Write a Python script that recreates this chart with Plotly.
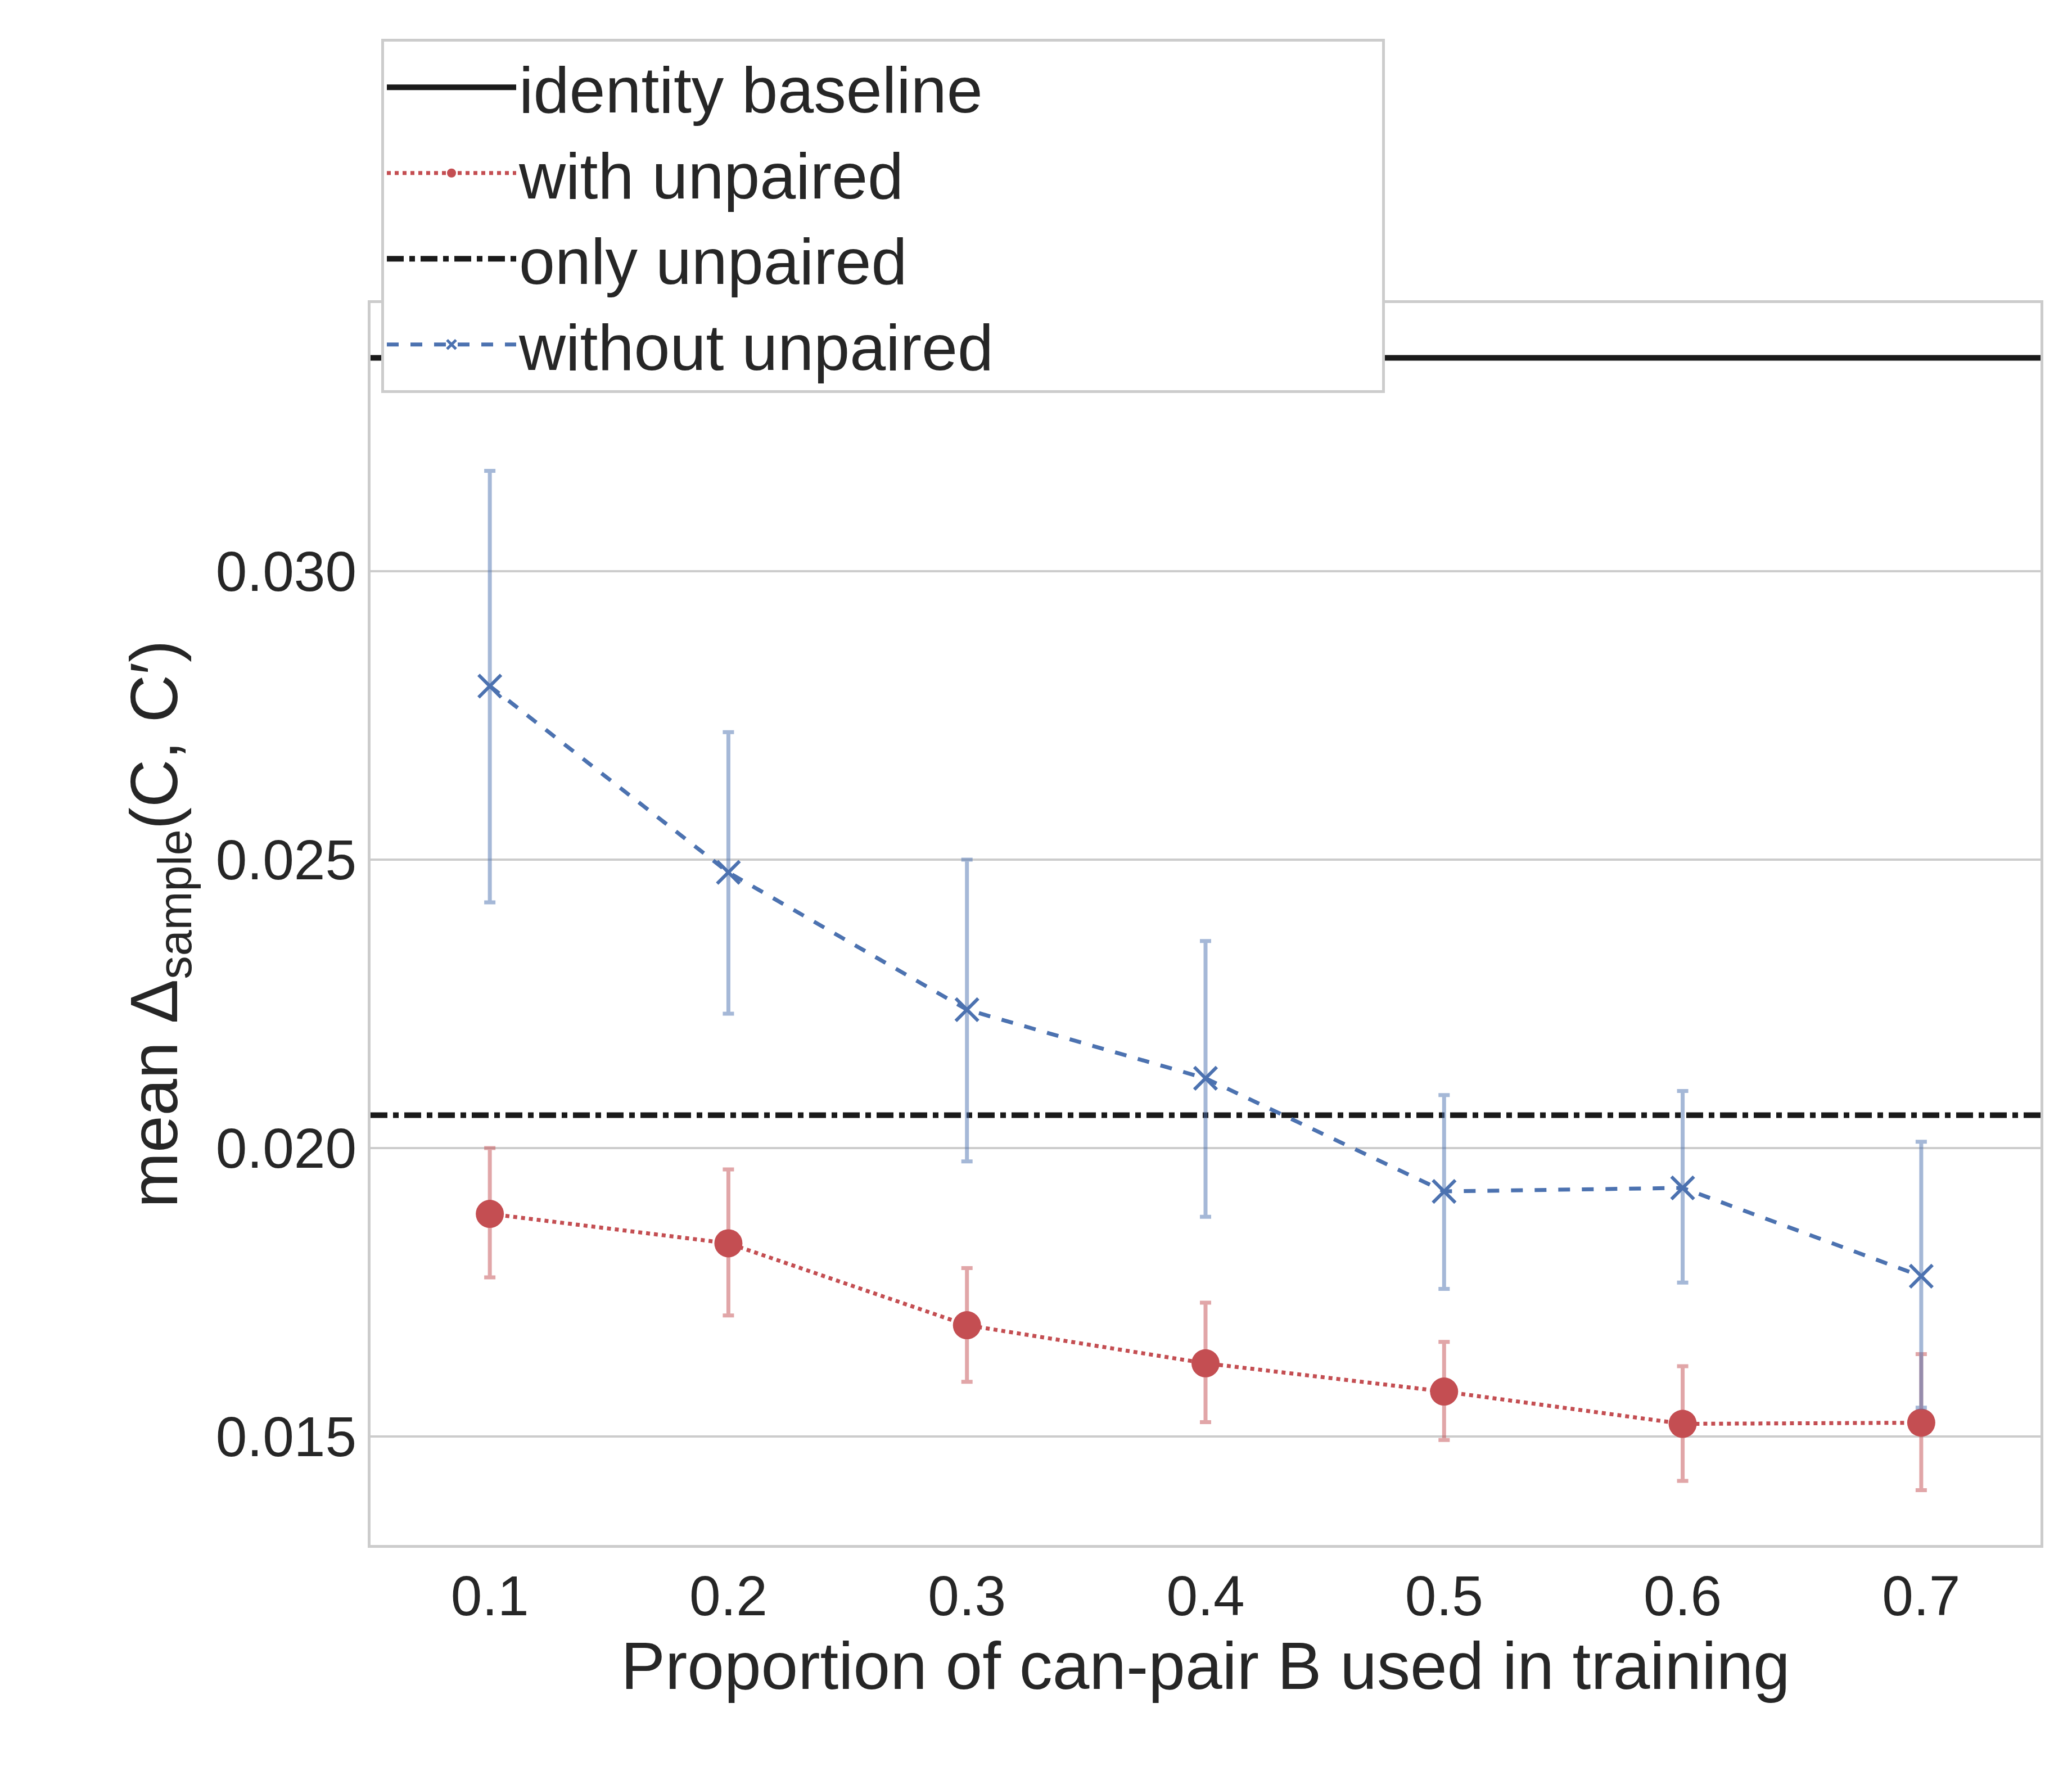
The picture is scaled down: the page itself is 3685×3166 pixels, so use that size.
import plotly.graph_objects as go

proportions = [0.1, 0.2, 0.3, 0.4, 0.5, 0.6, 0.7]

with_unpaired = [0.01886, 0.01835, 0.01693, 0.01627, 0.01578, 0.01522, 0.01524]
with_upper = [0.0200, 0.01963, 0.01792, 0.01732, 0.01664, 0.01622, 0.01643]
with_lower = [0.01776, 0.0171, 0.01595, 0.01525, 0.01494, 0.01423, 0.01407]

without_unpaired = [0.02801, 0.02478, 0.0224, 0.02121, 0.01925, 0.01931, 0.01778]
without_upper = [0.03174, 0.02721, 0.0250, 0.02359, 0.02092, 0.02099, 0.02011]
without_lower = [0.02426, 0.02233, 0.01977, 0.01881, 0.01756, 0.01767, 0.0155]

identity_baseline = 0.0337
only_unpaired = 0.02057
x_span = [0.05, 0.75]

RED = "#C44E52"
BLUE = "#4C72B0"
TEXT = "#262626"

fig = go.Figure()

fig.add_trace(go.Scatter(x=x_span, y=[identity_baseline] * 2, mode="lines",
                         name="identity baseline", legendrank=1,
                         line=dict(color="#1a1a1a", width=10)))
fig.add_trace(go.Scatter(
    x=proportions, y=with_unpaired, mode="lines+markers", name="with unpaired",
    legendrank=2,
    line=dict(color=RED, width=7, dash="dot"),
    marker=dict(color=RED, size=50, symbol="circle"),
    error_y=dict(type="data", symmetric=False,
                 array=[u - v for u, v in zip(with_upper, with_unpaired)],
                 arrayminus=[v - l for v, l in zip(with_unpaired, with_lower)],
                 color="rgba(196,78,82,0.5)", thickness=7, width=10)))
fig.add_trace(go.Scatter(x=x_span, y=[only_unpaired] * 2, mode="lines",
                         name="only unpaired", legendrank=3,
                         line=dict(color="#1a1a1a", width=10, dash="dashdot")))
fig.add_trace(go.Scatter(
    x=proportions, y=without_unpaired, mode="lines+markers", name="without unpaired",
    legendrank=4,
    line=dict(color=BLUE, width=7, dash="dash"),
    marker=dict(color=BLUE, size=40, symbol="x-thin",
                line=dict(color=BLUE, width=6)),
    error_y=dict(type="data", symmetric=False,
                 array=[u - v for u, v in zip(without_upper, without_unpaired)],
                 arrayminus=[v - l for v, l in zip(without_unpaired, without_lower)],
                 color="rgba(76,114,176,0.5)", thickness=7, width=10)))

fig.update_layout(
    width=3685, height=3166,
    paper_bgcolor="white", plot_bgcolor="white",
    font=dict(family="Arial, Liberation Sans, sans-serif", color=TEXT, size=100),
    margin=dict(l=651, r=64, t=531, b=426, autoexpand=False),
    legend=dict(orientation="h", x=670 / 3685, xref="container", xanchor="left",
                y=1 - 61 / 3166, yref="container", yanchor="top",
                entrywidth=1530, entrywidthmode="pixels",
                bordercolor="#cccccc", borderwidth=5,
                font=dict(size=115), itemwidth=230, tracegroupgap=0),
)
fig.update_xaxes(range=x_span, tickvals=proportions,
                 ticktext=[f"{p:.1f}" for p in proportions],
                 showgrid=False, zeroline=False, ticks="",
                 showline=True, linecolor="#cccccc", linewidth=5, mirror=True,
                 title=dict(text="Proportion of can-pair B used in training",
                            font=dict(size=118), standoff=30))
fig.update_yaxes(range=[0.01312, 0.03465], tickvals=[0.015, 0.020, 0.025, 0.030],
                 ticktext=["0.015", "0.020", "0.025", "0.030"],
                 showgrid=True, gridcolor="#cccccc", gridwidth=4, zeroline=False, ticks="",
                 showline=True, linecolor="#cccccc", linewidth=5, mirror=True,
                 title=dict(text="mean Δ<sub>sample</sub>(C, C′)",
                            font=dict(size=118), standoff=30))

fig.write_html("out.html")
